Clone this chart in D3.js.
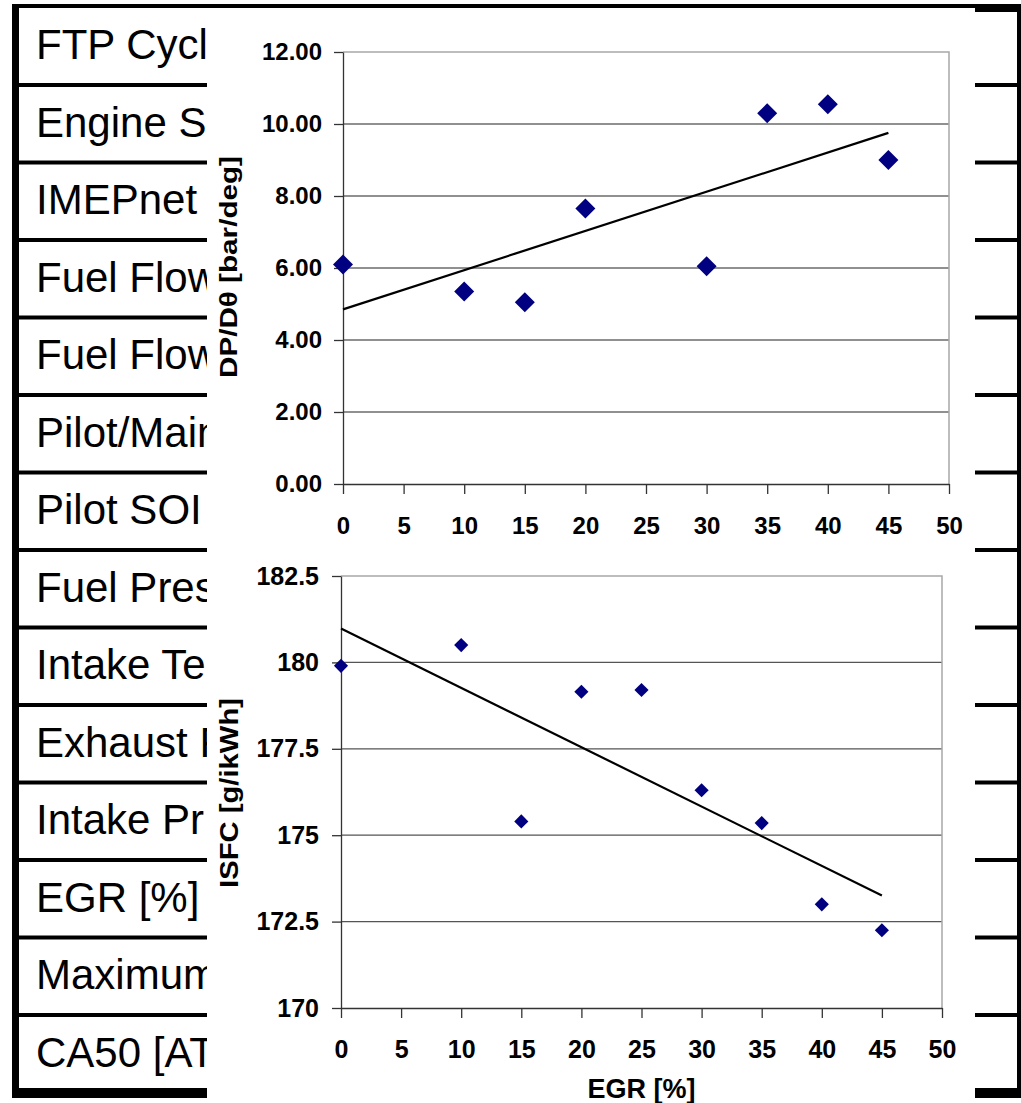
<!DOCTYPE html>
<html>
<head>
<meta charset="utf-8">
<script src="https://cdn.jsdelivr.net/npm/d3@7"></script>
<style>
  body { margin: 0; background: #fff; }
  text { font-family: "Liberation Sans", Arial, sans-serif; }
  .tick text { font-weight: bold; fill: #000; }
  .axistitle { font-weight: bold; fill: #000; }
</style>
</head>
<body>
<div id="main_div"></div>
<script>
/** Global Variables **/
let size = [1021, 1103];

// table behind the charts (only the left part of each label shows)
const rowLabels = ["FTP Cycl", "Engine S", "IMEPnet", "Fuel Flow", "Fuel Flow",
  "Pilot/Main", "Pilot SOI", "Fuel Pres", "Intake Te", "Exhaust P",
  "Intake Pr", "EGR [%]", "Maximum", "CA50 [AT"];

// top chart: DP/Dtheta vs EGR
const egrTop = [0, 10, 15, 20, 30, 35, 40, 45];
const dpdTheta = [6.1, 5.35, 5.05, 7.65, 6.05, 10.3, 10.55, 9.0];
const yTicksTop = [0, 2, 4, 6, 8, 10, 12];

// bottom chart: ISFC vs EGR
const egrBottom = [0, 10, 15, 20, 25, 30, 35, 40, 45];
const isfc = [179.9, 180.5, 175.4, 179.15, 179.2, 176.3, 175.35, 173.0, 172.25];
const yTicksBottom = [170, 172.5, 175, 177.5, 180, 182.5];

const xTicks = [0, 5, 10, 15, 20, 25, 30, 35, 40, 45, 50];
const markerColor = "#000080";

let svg = d3.select("#main_div")
  .append("svg")
  .attr("width", size[0])
  .attr("height", size[1])
  .attr("id", "main_svg");

drawTable();
drawPanel();

drawChart({
  xs: egrTop, ys: dpdTheta, yDomain: [0, 12], yTicks: yTicksTop,
  left: 343, right: 949, top: 52, bottom: 484,
  fmt: d3.format(".2f"), fontSize: 24, yPad: 12, xPad: 23,
  gridColor: "#222", markerSize: 200,
  yTitle: "DP/Dθ [bar/deg]", yTitleX: 229, yTitleY: 267, titleSize: 24, titleLen: 222
});

drawChart({
  xs: egrBottom, ys: isfc, yDomain: [170, 182.5], yTicks: yTicksBottom,
  left: 341, right: 942, top: 576, bottom: 1008,
  fmt: d => (d % 1 ? d.toFixed(1) : d), fontSize: 25, yPad: 13, xPad: 22,
  gridColor: "#555", markerSize: 100,
  yTitle: "ISFC [g/ikWh]", yTitleX: 229, yTitleY: 793, titleSize: 26, titleLen: 190,
  xTitle: "EGR [%]"
});

function drawTable() {
  const rowH = 77.5, top0 = 7.5;

  svg.append("defs").append("clipPath").attr("id", "leftcol")
    .append("rect").attr("x", 19).attr("y", 0).attr("width", 188).attr("height", size[1]);

  // row separators
  for (let i = 1; i < rowLabels.length; i++) {
    svg.append("rect")
      .attr("x", 12).attr("y", top0 + i * rowH - 2)
      .attr("width", 1005).attr("height", 4)
      .attr("fill", "#000");
  }

  svg.append("g").attr("clip-path", "url(#leftcol)")
    .selectAll("text")
    .data(rowLabels)
    .enter()
    .append("text")
    .attr("x", 36)
    .attr("y", (d, i) => top0 + i * rowH + 51.5)
    .attr("font-size", 42)
    .text(d => d);

  // outer border
  svg.append("rect").attr("x", 12).attr("y", 4).attr("width", 1009).attr("height", 4).attr("fill", "#000");
  svg.append("rect").attr("x", 975).attr("y", 4).attr("width", 46).attr("height", 8).attr("fill", "#000");
  svg.append("rect").attr("x", 12).attr("y", 4).attr("width", 7).attr("height", 1094).attr("fill", "#000");
  svg.append("rect").attr("x", 1017).attr("y", 4).attr("width", 4).attr("height", 1094).attr("fill", "#000");
  svg.append("rect").attr("x", 12).attr("y", 1088).attr("width", 1009).attr("height", 10).attr("fill", "#000");
}

function drawPanel() {
  // white picture of the two charts pasted over the table
  svg.append("rect")
    .attr("x", 207).attr("y", 8)
    .attr("width", 768).attr("height", size[1] - 8)
    .attr("fill", "#fff");
}

function fitLine(xs, ys) {
  let mx = d3.mean(xs), my = d3.mean(ys);
  let sxy = d3.sum(xs, (x, i) => (x - mx) * (ys[i] - my));
  let sxx = d3.sum(xs, x => (x - mx) * (x - mx));
  let b = sxy / sxx;
  return x => my + b * (x - mx);
}

function drawChart(c) {
  let xScale = d3.scaleLinear().domain([0, 50]).range([c.left, c.right]);
  let yScale = d3.scaleLinear().domain(c.yDomain).range([c.bottom, c.top]);
  let g = svg.append("g");

  /** gridlines **/
  g.append("g").selectAll("line")
    .data(c.yTicks.slice(1, -1))
    .enter()
    .append("line")
    .attr("x1", c.left).attr("x2", c.right)
    .attr("y1", d => yScale(d)).attr("y2", d => yScale(d))
    .attr("stroke", c.gridColor)
    .attr("stroke-width", 1.2);

  /** plot area border **/
  g.append("path")
    .attr("d", `M${c.left},${c.top}H${c.right}V${c.bottom}`)
    .attr("fill", "none")
    .attr("stroke", "#a8a8a8")
    .attr("stroke-width", 1.5);

  /** axes **/
  let yAxis = d3.axisLeft(yScale).tickValues(c.yTicks).tickFormat(c.fmt)
    .tickSize(9).tickSizeOuter(0).tickPadding(c.yPad);
  let xAxis = d3.axisBottom(xScale).tickValues(xTicks)
    .tickSize(10).tickSizeOuter(0).tickPadding(c.xPad);

  let yc = g.append("g").attr("class", "axis").attr("transform", `translate(${c.left},0)`).call(yAxis);
  let xc = g.append("g").attr("class", "axis").attr("transform", `translate(0,${c.bottom})`).call(xAxis);

  [yc, xc].forEach(a => {
    a.select(".domain").attr("stroke", "#333").attr("stroke-width", 1.3);
    a.selectAll(".tick line").attr("stroke", "#333").attr("stroke-width", 1.3);
    a.selectAll(".tick text").attr("font-size", c.fontSize).attr("font-family", null);
  });

  /** axis titles **/
  g.append("text")
    .attr("class", "axistitle")
    .attr("transform", `translate(${c.yTitleX},${c.yTitleY}) rotate(-90)`)
    .attr("text-anchor", "middle")
    .attr("dy", "0.35em")
    .attr("font-size", c.titleSize)
    .attr("textLength", c.titleLen)
    .attr("lengthAdjust", "spacingAndGlyphs")
    .text(c.yTitle);

  if (c.xTitle) {
    g.append("text")
      .attr("class", "axistitle")
      .attr("x", (c.left + c.right) / 2)
      .attr("y", 1098)
      .attr("text-anchor", "middle")
      .attr("font-size", 27)
      .text(c.xTitle);
  }

  /** linear trend line **/
  let f = fitLine(c.xs, c.ys);
  let x0 = d3.min(c.xs), x1 = d3.max(c.xs);
  g.append("line")
    .attr("x1", xScale(x0)).attr("y1", yScale(f(x0)))
    .attr("x2", xScale(x1)).attr("y2", yScale(f(x1)))
    .attr("stroke", "#000")
    .attr("stroke-width", 2.2);

  /** data points **/
  let sym = d3.symbol().type(d3.symbolSquare).size(c.markerSize);
  g.append("g").selectAll("path")
    .data(c.xs.map((x, i) => [x, c.ys[i]]))
    .enter()
    .append("path")
    .attr("d", sym)
    .attr("transform", d => `translate(${xScale(d[0])},${yScale(d[1])}) rotate(45)`)
    .attr("fill", markerColor);
}
</script>
</body>
</html>
